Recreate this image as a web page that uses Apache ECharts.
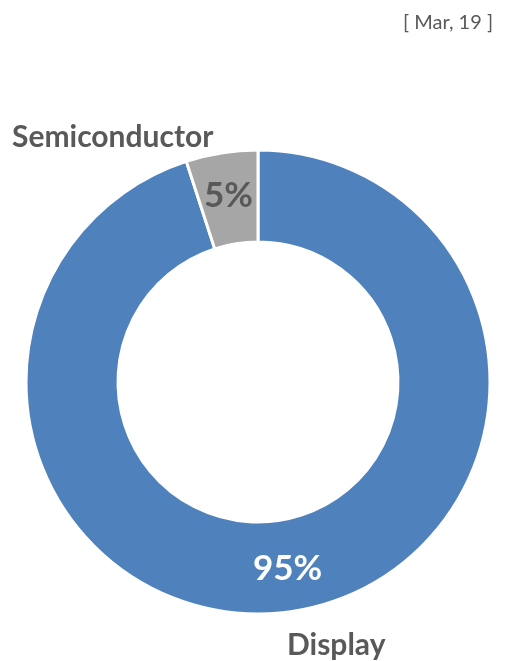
<!DOCTYPE html>
<html>
<head>
<meta charset="utf-8">
<script src="https://cdn.jsdelivr.net/npm/echarts@6/dist/echarts.min.js"></script>
<style>html,body{margin:0;padding:0;background:#fff}#c{width:511px;height:661px}</style>
</head>
<body>
<div id="c"></div>
<script>
const categories = ['Display', 'Semiconductor'];
const values = [95, 5];
const colors = ['#4F81BD', '#A6A6A6'];
const labelColors = ['#FFFFFF', '#595959'];
const dateLabel = '[ Mar, 19 ]';

const chart = echarts.init(document.getElementById('c'));
const font = 'Lato, Carlito, Calibri, sans-serif';
chart.setOption({
  animation: false,
  series: [{
    type: 'pie',
    center: [258, 382],
    radius: [140, 232],
    startAngle: 90,
    clockwise: true,
    silent: true,
    itemStyle: { borderColor: '#fff', borderWidth: 3 },
    label: {
      show: true,
      position: 'inside',
      formatter: '{c}%',
      fontFamily: font,
      fontWeight: 'bold',
      fontSize: 35
    },
    labelLine: { show: false },
    data: categories.map((n, i) => ({
      name: n, value: values[i],
      itemStyle: { color: colors[i] },
      label: { color: labelColors[i] }
    }))
  }],
  graphic: [
    { type: 'text', right: 18, top: 13, style: { text: dateLabel, fill: '#595959', font: '20px ' + font } },
    { type: 'text', left: 12, top: 122, style: { text: categories[1], fill: '#595959', font: 'bold 30px ' + font } },
    { type: 'text', left: 287, top: 630, style: { text: categories[0], fill: '#595959', font: 'bold 30px ' + font } }
  ]
});
</script>
</body>
</html>
